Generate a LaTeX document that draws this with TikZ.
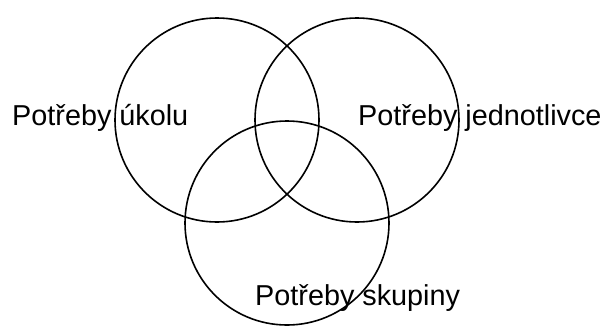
\documentclass[tikz,border=0pt]{standalone}
\usepackage{fontspec}
\setmainfont{Liberation Sans}
\begin{document}
\begin{tikzpicture}
[
    x=1pt, y=-1pt,
    need/.style={draw, circle, line width=1.6pt, inner sep=0pt, minimum size=204pt},
    needtext/.style={anchor=base west, inner sep=0pt, font=\fontsize{28.8}{32}\selectfont}
]
    \useasboundingbox (0,0) rectangle (603,325);

    \node [need] (task) at (217,120) {};
    \node [need] (person) at (357,120) {};
    \node [need] (group) at (287,223) {};

    \node [needtext] (tasktext) at (12,125) {Potřeby úkolu};
    \node [needtext] (persontext) at (358,125) {Potřeby jednotlivce};
    \node [needtext] (grouptext) at (255,305) {Potřeby skupiny};
\end{tikzpicture}
\end{document}
